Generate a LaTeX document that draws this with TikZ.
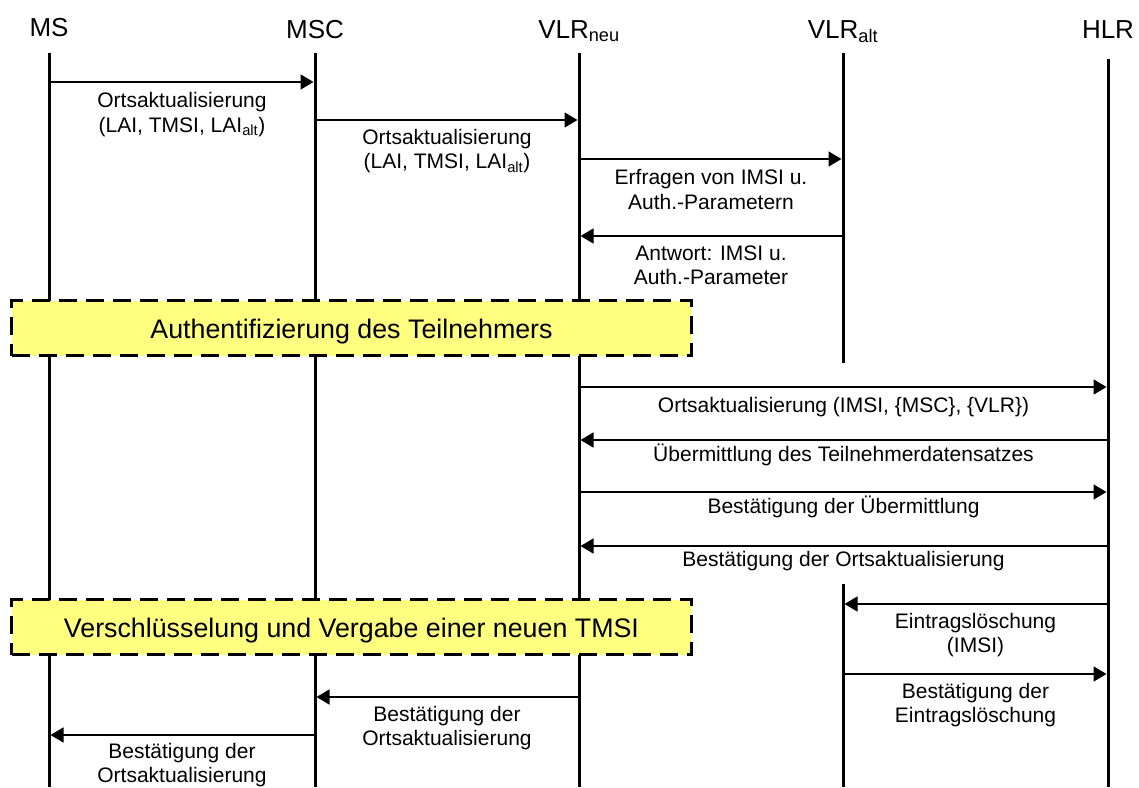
\documentclass[tikz,border=0pt]{standalone}
\usepackage{fontspec}
\setmainfont{Liberation Sans}
\usetikzlibrary{arrows.meta}
\definecolor{notefill}{RGB}{255,255,128}
% strut that fixes the height of the first line of a message label
\newcommand\lstrut{\rule{0pt}{19pt}}
% #1 label name, #2 sender lifeline, #3 receiver lifeline, #4 y of the arrow,
% #5 distance arrow -> first baseline, #6 label text
\newcommand\sqmsg[6]{%
  \draw[msgline] (#2 |- 0,#4) -- (#3 |- 0,#4)
    node[midway,lbl,yshift={-(#5-19)*1pt}] (#1) {\lstrut #6};}
\begin{document}
\begin{tikzpicture}[x=1pt,y=-1pt,
  lifeline/.style={line width=3pt},
  msgline/.style={line width=1.5pt,-{Triangle[length=13pt,width=15pt]},shorten >=1.5pt},
  lbl/.style={anchor=north,inner sep=0pt,align=center,font=\fontsize{21}{24.5}\selectfont},
  head/.style={anchor=base,inner sep=0pt,font=\fontsize{26}{30}\selectfont},
  note/.style={draw,line width=3pt,dash pattern=on 18pt off 9pt,fill=notefill,
    font=\fontsize{26.8}{30}\selectfont,inner sep=0pt,text height=23pt,text depth=3pt,
    minimum width=680pt,minimum height=55pt}]
\useasboundingbox (0,0) rectangle (1139,787);

% participants
\node[head] (ms)  at (49,36)   {MS};
\node[head] (msc) at (315,38)  {MSC};
\node[head] (vn)  at (579,38)  {VLR\textsubscript{neu}};
\node[head] (va)  at (843,38)  {VLR\textsubscript{alt}};
\node[head] (hlr) at (1108,38) {HLR};

% lifelines
\coordinate (lms)  at (49,53);   \coordinate (lmsb)  at (49,787);
\coordinate (lmsc) at (315,53);  \coordinate (lmscb) at (315,787);
\coordinate (lvn)  at (579,53);  \coordinate (lvnb)  at (579,787);
\coordinate (lva)  at (843,53);  \coordinate (lvae)  at (843,363);
\coordinate (lvar) at (843,584); \coordinate (lvab)  at (843,787);
\coordinate (lhlr) at (1108,59); \coordinate (lhlrb) at (1108,787);
\draw[lifeline] (lms) -- (lmsb);
\draw[lifeline] (lmsc) -- (lmscb);
\draw[lifeline] (lvn) -- (lvnb);
\draw[lifeline] (lva) -- (lvae);
\draw[lifeline] (lvar) -- (lvab);
\draw[lifeline] (lhlr) -- (lhlrb);

% messages
\sqmsg{m1}{lms}{lmsc}{82}{25}{Ortsaktualisierung\\(LAI, TMSI, LAI\textsubscript{alt})}
\sqmsg{m2}{lmsc}{lvn}{120}{23.5}{Ortsaktualisierung\\(LAI, TMSI, LAI\textsubscript{alt})}
\sqmsg{m3}{lvn}{lva}{159}{25}{Erfragen von IMSI u.\\Auth.-Parametern}
\sqmsg{m4}{lva}{lvn}{236}{23.5}{Antwort: IMSI u.\\Auth.-Parameter}
\sqmsg{m5}{lvn}{lhlr}{387}{24.5}{Ortsaktualisierung (IMSI, \{MSC\}, \{VLR\})}
\sqmsg{m6}{lhlr}{lvn}{440}{20.5}{Übermittlung des Teilnehmerdatensatzes}
\sqmsg{m7}{lvn}{lhlr}{492}{21}{Bestätigung der Übermittlung}
\sqmsg{m8}{lhlr}{lvn}{546}{20}{Bestätigung der Ortsaktualisierung}
\sqmsg{m9}{lhlr}{lvar}{604}{23.5}{Eintragslöschung\\(IMSI)}
\sqmsg{m10}{lvar}{lhlr}{674}{23.5}{Bestätigung der\\Eintragslöschung}
\sqmsg{m11}{lvn}{lmsc}{697}{23.5}{Bestätigung der\\Ortsaktualisierung}
\sqmsg{m12}{lmsc}{lms}{735}{22.5}{Bestätigung der\\Ortsaktualisierung}

% procedure boxes
\node[note] (auth) at (351.5,328) {Authentifizierung des Teilnehmers};
\node[note] (ciph) at (351.5,627) {Verschlüsselung und Vergabe einer neuen TMSI};
\end{tikzpicture}
\end{document}
